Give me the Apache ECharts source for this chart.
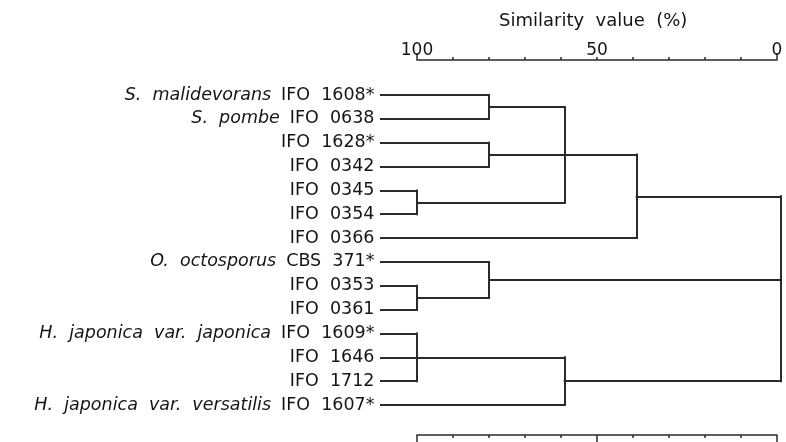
<!DOCTYPE html>
<html>
<head>
<meta charset="utf-8">
<script src="https://cdn.jsdelivr.net/npm/echarts@6/dist/echarts.min.js"></script>
<style>
  html, body { margin: 0; padding: 0; background: #fff; }
  #chart { width: 786px; height: 442px; }
</style>
</head>
<body>
<div id="chart"></div>
<script>
// leaves, top to bottom
var leafSpecies = ["S.  malidevorans", "S.  pombe", "", "", "", "", "", "O.  octosporus", "", "",
  "H.  japonica  var.  japonica", "", "", "H.  japonica  var.  versatilis"];
var leafStrains = ["IFO  1608*", "IFO  0638", "IFO  1628*", "IFO  0342", "IFO  0345", "IFO  0354",
  "IFO  0366", "CBS  371*", "IFO  0353", "IFO  0361", "IFO  1609*", "IFO  1646", "IFO  1712", "IFO  1607*"];

// clusters: children are leaf indexes (numbers) or cluster names
var clusterNames = ["A", "B", "C", "D", "E", "F", "G", "H", "I", "J"];
var clusterChildren = [[0, 1], [2, 3], [4, 5], ["A", "B", "C"], ["D", 6], [8, 9], [7, "F"],
  [10, 11, 12], ["H", 13], ["E", "G", "I"]];
var clusterSimilarity = [80, 80, 100, 59, 39, 100, 80, 100, 59, -1];

var scaleTicks = [100, 50, 0];

var LEAF_X = 110; // where the leaf lines start (left of the 100 mark)
var INK = "#2b2b2b";
var TEXT = "#151515";

var myChart = echarts.init(document.getElementById("chart"));

// work out the node positions and the segments
var nodePos = {};
var segments = [];
for (var i = 0; i < leafStrains.length; i++) {
  nodePos[i] = [LEAF_X, i];
}
clusterNames.forEach(function (name, k) {
  var sim = clusterSimilarity[k];
  var ys = [];
  clusterChildren[k].forEach(function (c) {
    var p = nodePos[c];
    ys.push(p[1]);
    segments.push({ coords: [[p[0], p[1]], [sim, p[1]]] });
  });
  var yMin = Math.min.apply(null, ys);
  var yMax = Math.max.apply(null, ys);
  segments.push({ coords: [[sim, yMin], [sim, yMax]] });
  var yMean = ys.reduce(function (a, b) { return a + b; }, 0) / ys.length;
  nodePos[name] = [sim, yMean];
});

var labelData = leafStrains.map(function (s, i) {
  return { value: [LEAF_X, i], species: leafSpecies[i], strain: s };
});

var baseX = {
  type: "value",
  min: 0,
  max: 100,
  inverse: true,
  splitLine: { show: false },
  axisLabel: { show: false },
  axisLine: { show: false, onZero: false },
  axisTick: { show: false },
};

myChart.setOption({
  animation: false,
  title: {
    text: "Similarity  value  (%)",
    left: 494,
    top: 7,
    textStyle: {
      fontFamily: "DejaVu Sans",
      fontSize: 18,
      fontWeight: "normal",
      color: TEXT,
    },
  },
  grid: {
    left: 417,
    right: 9,
    top: 60,
    bottom: 7,
  },
  xAxis: [
    Object.assign({}, baseX, {
      position: "top",
      interval: 10,
      axisLine: { show: true, onZero: false, lineStyle: { color: INK, width: 1.5 } },
      axisTick: { show: true, length: 3, lineStyle: { color: INK, width: 1.5 } },
      axisLabel: {
        show: true,
        margin: 1,
        fontFamily: "DejaVu Sans",
        fontSize: 17,
        color: TEXT,
        formatter: function (v) {
          return scaleTicks.indexOf(v) >= 0 ? String(v) : "";
        },
      },
    }),
    Object.assign({}, baseX, {
      position: "top",
      interval: 100,
      axisTick: { show: true, length: 7, lineStyle: { color: INK, width: 1.5 } },
    }),
    Object.assign({}, baseX, {
      position: "bottom",
      interval: 10,
      axisLine: { show: true, onZero: false, lineStyle: { color: INK, width: 1.5 } },
      axisTick: { show: true, length: 3, lineStyle: { color: INK, width: 1.5 } },
    }),
    Object.assign({}, baseX, {
      position: "bottom",
      interval: 50,
      axisTick: { show: true, length: 9, lineStyle: { color: INK, width: 1.5 } },
    }),
  ],
  yAxis: {
    type: "value",
    inverse: true,
    min: -1.468,
    max: 14.258,
    show: false,
  },
  series: [
    {
      type: "lines",
      coordinateSystem: "cartesian2d",
      xAxisIndex: 0,
      clip: false,
      silent: true,
      lineStyle: { color: INK, width: 2, opacity: 1, cap: "square" },
      data: segments,
    },
    {
      type: "scatter",
      xAxisIndex: 0,
      clip: false,
      silent: true,
      symbolSize: 1,
      itemStyle: { color: "rgba(0,0,0,0)", opacity: 1 },
      label: {
        show: true,
        position: "left",
        distance: 6,
        color: TEXT,
        formatter: function (p) {
          var d = p.data;
          return (d.species ? "{sp|" + d.species + "}   " : "") + "{id|" + d.strain + "}";
        },
        rich: {
          sp: {
            fontFamily: "DejaVu Sans",
            fontStyle: "italic",
            fontSize: 17.5,
            color: TEXT,
          },
          id: {
            fontFamily: "DejaVu Sans",
            fontSize: 17.5,
            color: TEXT,
          },
        },
      },
      data: labelData,
    },
  ],
});
</script>
</body>
</html>
